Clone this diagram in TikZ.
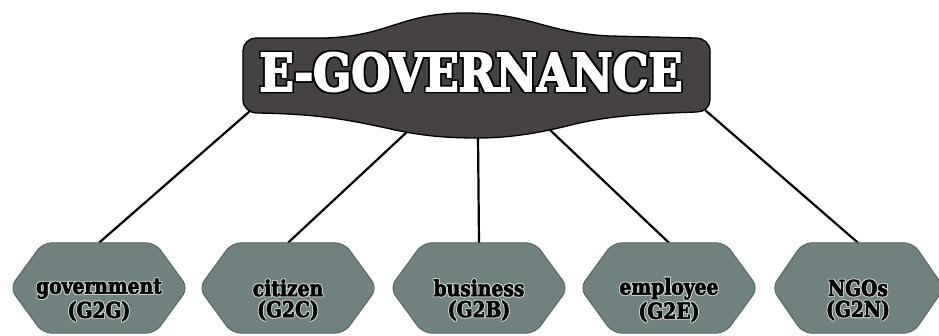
\documentclass[tikz,border=0pt]{standalone}
\usepackage{fontspec}
\usepackage{graphicx}
\usetikzlibrary{backgrounds,calc}
\newfontfamily\slab{DejaVu Serif}[FakeStretch=0.85, BoldFeatures={FakeBold=2.6}]
\newfontfamily\slabtitle{DejaVu Serif}[FakeStretch=0.8, BoldFeatures={FakeBold=3.2}]
\definecolor{titlefill}{HTML}{474242}
\definecolor{hexfill}{HTML}{6F827F}
\definecolor{hexline}{HTML}{4F5C5A}
\definecolor{halogray}{HTML}{C9D2D0}
% #1 halo colour, #2 offset, #3 text colour, #4 text
\newcommand\halotxt[4]{\leavevmode
 \rlap{\textcolor{#1}{\hspace*{#2}#4}}%
 \rlap{\textcolor{#1}{\hspace*{-#2}#4}}%
 \rlap{\textcolor{#1}{\raisebox{#2}{#4}}}%
 \rlap{\textcolor{#1}{\raisebox{-#2}{#4}}}%
 \rlap{\textcolor{#1}{\hspace*{#2}\raisebox{#2}{#4}}}%
 \rlap{\textcolor{#1}{\hspace*{-#2}\raisebox{#2}{#4}}}%
 \rlap{\textcolor{#1}{\hspace*{#2}\raisebox{-#2}{#4}}}%
 \rlap{\textcolor{#1}{\hspace*{-#2}\raisebox{-#2}{#4}}}%
 \textcolor{#3}{#4}}
\newcommand\hexlab[1]{\halotxt{halogray}{0.8pt}{black}{#1}}
\tikzset{
  hexbox/.style={minimum width=178pt, minimum height=90pt, inner sep=0pt},
  hexshape/.style={fill=hexfill, draw=hexline, line width=0.8pt, rounded corners=9pt},
  hextext/.style={align=center, inner sep=0pt, font=\slab\bfseries\fontsize{22}{21}\selectfont},
  conn/.style={draw=black, line width=2.2pt},
  titleshape/.style={fill=titlefill, draw=black, line width=1.3pt},
}
\begin{document}
\begin{tikzpicture}[x=1pt,y=-1pt]
\useasboundingbox (0,0) rectangle (939,336);
% title
\node[inner sep=0pt] (title) at (471,72)
  {\resizebox{423pt}{40pt}{\slabtitle\bfseries\fontsize{55}{55}\selectfont\halotxt{black}{1.5pt}{white}{E-GOVERNANCE}}};
% hexagon boxes
\node[hexbox] (gov) at (99,288) {};
\node[hexbox] (cit) at (288,288) {};
\node[hexbox] (bus) at (479,288) {};
\node[hexbox] (emp) at (669,288) {};
\node[hexbox, minimum width=172pt] (ngo) at (858,288) {};
% labels
\node[hextext] (govt) at ($(gov)+(0,12)$) {\hexlab{government}\\\hexlab{(G2G)}};
\node[hextext] (citt) at ($(cit)+(0,12)$) {\hexlab{citizen}\\\hexlab{(G2C)}};
\node[hextext] (bust) at ($(bus)+(0,12)$) {\hexlab{business}\\\hexlab{(G2B)}};
\node[hextext] (empt) at ($(emp)+(0,12)$) {\hexlab{employee}\\\hexlab{(G2E)}};
\node[hextext] (ngot) at ($(ngo)+(0,12)$) {\hexlab{NGOs}\\\hexlab{(G2N)}};
% connector start points on the title shape
\coordinate (t1) at (250,111);
\coordinate (t2) at (408,131);
\coordinate (t3) at (478,136);
\coordinate (t4) at (550,130);
\coordinate (t5) at (705,110);
\begin{scope}[on background layer]
  \draw[conn] (t1) -- (gov.north);
  \draw[conn] (t2) -- (cit.north);
  \draw[conn] (t3) -- (bus.north);
  \draw[conn] (t4) -- (emp.north);
  \draw[conn] (t5) -- (ngo.north);
  \draw[titleshape] (243,100) -- (243,51) to[out=90,in=180] (256,38)
    -- (325,38)
    .. controls (390,36) and (400,13) .. (465,13)
    .. controls (530,13) and (545,33) .. (610,36)
    -- (696,38) to[out=0,in=90] (710,51)
    -- (710,100) to[out=-90,in=0] (697,112)
    .. controls (640,114) and (610,116) .. (575,124)
    .. controls (540,133) and (510,138) .. (478,138)
    .. controls (440,138) and (420,135) .. (395,130)
    .. controls (350,120) and (320,114) .. (257,113)
    to[out=180,in=-90] cycle;
  \foreach \n/\c in {gov/33,cit/33,bus/33,emp/33,ngo/31}
    \draw[hexshape] (\n.west) -- ([xshift=\c pt]\n.north west) -- ([xshift=-\c pt]\n.north east)
      -- (\n.east) -- ([xshift=-\c pt]\n.south east) -- ([xshift=\c pt]\n.south west) -- cycle;
\end{scope}
\end{tikzpicture}
\end{document}
